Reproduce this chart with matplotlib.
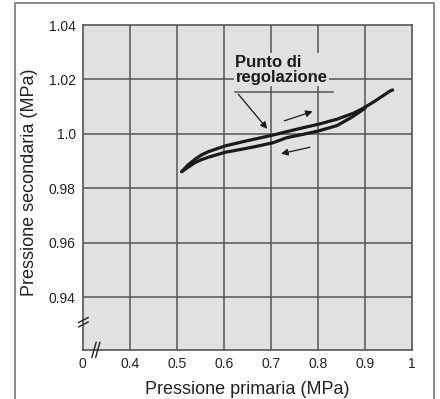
import numpy as np
import matplotlib.pyplot as plt
from matplotlib.patches import Rectangle

plt.rcParams['font.family'] = ['Liberation Sans', 'DejaVu Sans']

# hysteresis curves (primary MPa, secondary MPa)
x_up = [0.5106, 0.5240, 0.5389, 0.5520, 0.5672, 0.6028, 0.6383, 0.6736, 0.7055, 0.7340,
        0.7694, 0.8013, 0.8404, 0.8757, 0.8970, 0.9255, 0.9538, 0.9596]
y_up = [0.98617, 0.98862, 0.99072, 0.99225, 0.99350, 0.99560, 0.99706, 0.99842, 0.99963,
        1.00084, 1.00231, 1.00356, 1.00539, 1.00760, 1.00943, 1.01248, 1.01578, 1.01615]
x_dn = [0.5106, 0.5240, 0.5389, 0.5520, 0.5672, 0.6028, 0.6383, 0.6736, 0.7055, 0.7340,
        0.7694, 0.8013, 0.8404, 0.8687, 0.8900, 0.9006]
y_dn = [0.98617, 0.98778, 0.98947, 0.99055, 0.99145, 0.99328, 0.99439, 0.99560, 0.99681,
        0.99864, 0.99989, 1.00110, 1.00305, 1.00576, 1.00818, 1.00950]

x_ticks = [0.3, 0.4, 0.5, 0.6, 0.7, 0.8, 0.9, 1.0]
x_labels = ['0', '0.4', '0.5', '0.6', '0.7', '0.8', '0.9', '1']
y_ticks = [0.94, 0.96, 0.98, 1.00, 1.02, 1.04]
y_labels = ['0.94', '0.96', '0.98', '1.0', '1.02', '1.04']

bg = '#e0e1e3'
dark = '#555555'
ink = '#1a1a1a'

fig = plt.figure(figsize=(4.4, 3.99), dpi=100)
ax = fig.add_axes([0.188, 0.1228, 0.7477, 0.8145])
ax.set_facecolor(bg)
ax.set_xlim(0.3, 1.0)
ax.set_ylim(0.9207, 1.04)

for xv in x_ticks[1:-1]:
    ax.axvline(xv, color=dark, lw=1.1, zorder=1)
for yv in y_ticks[:-1]:
    ax.axhline(yv, color=dark, lw=1.1, zorder=1)

ax.set_xticks(x_ticks)
ax.set_xticklabels(x_labels)
ax.set_yticks(y_ticks)
ax.set_yticklabels(y_labels)
ax.tick_params(length=0, labelsize=10, pad=5, colors='#222222')
for s in ax.spines.values():
    s.set_color(dark)
    s.set_linewidth(1.2)

# curves
ax.plot(x_up, y_up, color=ink, lw=2.3, solid_capstyle='round', solid_joinstyle='round', zorder=3)
ax.plot(x_dn, y_dn, color=ink, lw=2.3, solid_capstyle='round', solid_joinstyle='round', zorder=3)

# direction arrows
ax.annotate('', xy=(0.7947, 1.0086), xytext=(0.7234, 1.0045),
            arrowprops=dict(arrowstyle='-|>', color=ink, lw=0.9, mutation_scale=10))
ax.annotate('', xy=(0.7162, 0.99255), xytext=(0.7894, 0.99534),
            arrowprops=dict(arrowstyle='-|>', color=ink, lw=0.9, mutation_scale=10))

# annotation
ax.text(0.625, 1.0236, 'Punto di\nregolazione', fontsize=12, fontweight='bold',
        ha='left', va='center', linespacing=1.0, color=ink,
        bbox=dict(facecolor=bg, edgecolor='none', pad=1), zorder=4)
ax.plot([0.624, 0.8326], [1.0154, 1.0154], color=dark, lw=1.1, zorder=4)
ax.annotate('', xy=(0.6964, 1.0011), xytext=(0.6272, 1.0154),
            arrowprops=dict(arrowstyle='-|>', color=ink, lw=0.9, mutation_scale=10),
            zorder=5)

# axis break marks
for dy in [0, 0.0016]:
    ax.plot([0.2915, 0.3115], [0.9292 + dy, 0.9310 + dy], color='#222222', lw=1,
            clip_on=False, zorder=6)
for dx in [0, 0.008]:
    ax.plot([0.3195 + dx, 0.3285 + dx], [0.9180, 0.9235], color='#222222', lw=1,
            clip_on=False, zorder=6)

fig.text(247 / 440, 1 - 390 / 399, 'Pressione primaria (MPa)', fontsize=13,
         ha='center', va='center', color='#222222')
fig.text(30 / 440, 1 - 182 / 399, 'Pressione secondaria (MPa)', fontsize=13,
         ha='center', va='center', rotation=90, color='#222222')

# outer frame
fig.patches.append(Rectangle((15 / 440, -0.05), 419 / 440, 1.05 - 3 / 399,
                             transform=fig.transFigure, fill=False,
                             edgecolor='#777777', lw=1.2))

fig.savefig('out.png', dpi=100)
